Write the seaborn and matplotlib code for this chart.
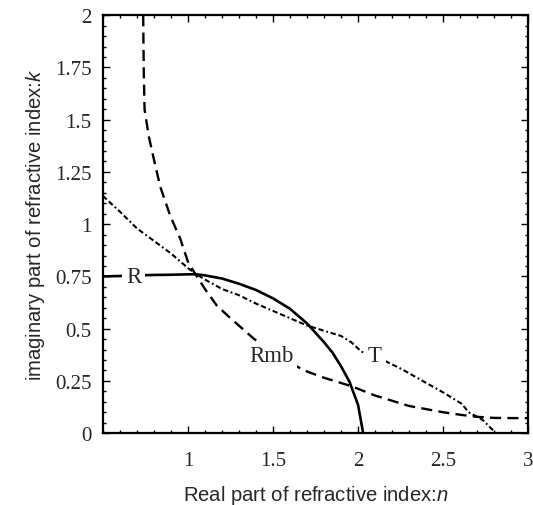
import matplotlib
matplotlib.use("Agg")
import matplotlib.pyplot as plt
from matplotlib.ticker import MultipleLocator
import numpy as np
import pandas as pd
import seaborn as sns

# Solid curve R
r_n = [0.5, 0.6, 0.7, 0.8, 0.9, 1.0, 1.05, 1.1, 1.2, 1.3, 1.4, 1.5, 1.6,
       1.7, 1.8, 1.85, 1.9, 1.95, 2.0, 2.03]
r_k = [0.75, 0.752, 0.755, 0.757, 0.758, 0.76, 0.76, 0.755, 0.74, 0.715,
       0.685, 0.645, 0.595, 0.525, 0.435, 0.385, 0.32, 0.245, 0.135, 0.0]

# Dashed curve Rmb
rmb_n = [0.737, 0.74, 0.745, 0.77, 0.80, 0.837, 0.896, 0.955, 1.0, 1.044,
         1.1, 1.17, 1.25, 1.32, 1.39, 1.5, 1.6, 1.7, 1.8, 1.9, 1.96, 2.1,
         2.2, 2.3, 2.4, 2.5, 2.6, 2.7, 2.8, 2.9, 3.0]
rmb_k = [2.0, 1.75, 1.55, 1.42, 1.31, 1.18, 1.04, 0.93, 0.82, 0.76,
         0.69, 0.61, 0.55, 0.5, 0.45, 0.39, 0.335, 0.295, 0.265, 0.24, 0.225,
         0.18, 0.155, 0.13, 0.115, 0.1, 0.088, 0.078, 0.073, 0.072, 0.072]

# Dash-dot curve T
t_n = [0.5, 0.6, 0.7, 0.8, 0.9, 1.0, 1.05, 1.1, 1.2, 1.3, 1.4, 1.5, 1.6,
       1.7, 1.8, 1.9, 1.96, 2.02, 2.1, 2.16, 2.26, 2.39, 2.5, 2.61, 2.65,
       2.73, 2.81]
t_k = [1.135, 1.06, 0.98, 0.92, 0.86, 0.79, 0.76, 0.735, 0.69, 0.66, 0.62,
       0.585, 0.55, 0.515, 0.49, 0.465, 0.435, 0.39, 0.365, 0.345, 0.305,
       0.245, 0.195, 0.14, 0.10, 0.065, 0.0]

x_ticks = [1, 1.5, 2, 2.5, 3]
x_ticklabels = ["1", "1.5", "2", "2.5", "3"]
y_ticks = [0, 0.25, 0.5, 0.75, 1, 1.25, 1.5, 1.75, 2]
y_ticklabels = ["0", "0.25", "0.5", "0.75", "1", "1.25", "1.5", "1.75", "2"]

curve_labels = [("R", 0.68, 0.75), ("Rmb", 1.49, 0.37), ("T", 2.10, 0.37)]

sns.set_theme(style="ticks")
plt.rcParams["font.family"] = ["Liberation Serif", "DejaVu Serif"]
plt.rcParams["lines.scale_dashes"] = False
plt.rcParams["mathtext.fontset"] = "custom"
plt.rcParams["mathtext.it"] = "Liberation Sans:italic"
plt.rcParams["mathtext.rm"] = "Liberation Sans"

fig = plt.figure(figsize=(5.33, 5.06), dpi=100)
ax = fig.add_axes([0.193, 0.142, 0.798, 0.826])

df_r = pd.DataFrame({"n": r_n, "k": r_k})
df_rmb = pd.DataFrame({"n": rmb_n, "k": rmb_k})
df_t = pd.DataFrame({"n": t_n, "k": t_k})

sns.lineplot(data=df_r, x="n", y="k", ax=ax, color="black", lw=1.9,
             sort=False, estimator=None)
sns.lineplot(data=df_rmb, x="n", y="k", ax=ax, color="black", lw=1.7,
             sort=False, estimator=None, linestyle=(0, (8.0, 4.5)))
sns.lineplot(data=df_t, x="n", y="k", ax=ax, color="black", lw=1.5,
             sort=False, estimator=None,
             linestyle=(0, (3.8, 2.0, 3.8, 2.0, 1.3, 2.0)))

for text, xn, yk in curve_labels:
    ax.text(xn, yk, text, fontsize=16.5, ha="center", va="center",
            family=["Liberation Serif"],
            bbox=dict(boxstyle="square,pad=0.15", fc="white", ec="none"),
            zorder=5)

ax.set_xlim(0.5, 3)
ax.set_ylim(0, 2)
ax.set_xticks(x_ticks)
ax.set_xticklabels(x_ticklabels)
ax.set_yticks(y_ticks)
ax.set_yticklabels(y_ticklabels)
ax.xaxis.set_minor_locator(MultipleLocator(0.1))
ax.yaxis.set_minor_locator(MultipleLocator(0.05))
ax.tick_params(which="both", direction="in", top=True, right=True,
               color="black", width=1.0)
ax.tick_params(which="major", length=5)
ax.tick_params(which="minor", length=2.5)
ax.tick_params(axis="x", which="major", pad=13, labelsize=15)
ax.tick_params(axis="y", which="major", pad=8, labelsize=15)

for sp in ax.spines.values():
    sp.set_linewidth(1.6)
    sp.set_color("black")

ax.set_xlabel("Real part of refractive index:$n$", fontsize=14.6,
              family=["Liberation Sans"], labelpad=9)
ax.set_ylabel("imaginary part of refractive index:$k$", fontsize=14.6,
              family=["Liberation Sans"], labelpad=6)

fig.savefig("out.png", dpi=100, facecolor="white")
